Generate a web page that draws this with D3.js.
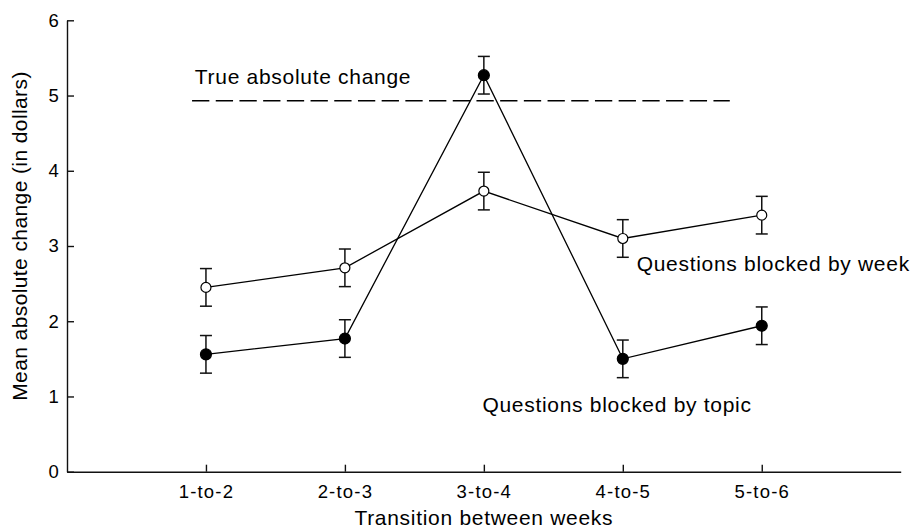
<!DOCTYPE html>
<html>
<head>
<meta charset="utf-8">
<script src="https://cdn.jsdelivr.net/npm/d3@7"></script>
<style>
  body { margin: 0; background: #fff; }
  text { font-family: "Liberation Sans", Arial, sans-serif; fill: #000; }
</style>
</head>
<body>
<div id="chart-area"></div>
<script>
// transitions on the x axis (placed at positions 1..5 of a 0..6 axis)
const transitions = ["1-to-2", "2-to-3", "3-to-4", "4-to-5", "5-to-6"]
const yTicks = [0, 1, 2, 3, 4, 5, 6]

// questions blocked by week (open circles)
const weekMeans = [2.45, 2.71, 3.73, 3.10, 3.41]
const weekErr = [0.25, 0.25, 0.25, 0.25, 0.25]

// questions blocked by topic (filled circles)
const topicMeans = [1.56, 1.77, 5.27, 1.50, 1.94]
const topicErr = [0.25, 0.25, 0.25, 0.25, 0.25]

// true absolute change (dashed reference line)
const trueChange = 4.93
const trueFrom = 0.9
const trueTo = 4.77

const width = 913, height = 529

const svg = d3.select("#chart-area").append("svg")
    .attr("width", width)
    .attr("height", height)

const x = d3.scaleLinear().domain([0, 6]).range([67, 900.7])
const y = d3.scaleLinear().domain([0, 6]).range([471.7, 20.3])

// axes, ticks pointing inward
const xAxis = svg.append("g")
    .attr("transform", `translate(0,${y(0)})`)
    .call(d3.axisBottom(x)
        .tickValues(transitions.map((d, i) => i + 1))
        .tickFormat((d, i) => transitions[i])
        .tickSize(-7)
        .tickPadding(13)
        .tickSizeOuter(0))
const yAxis = svg.append("g")
    .attr("transform", `translate(${x(0)},0)`)
    .call(d3.axisLeft(y)
        .tickValues(yTicks)
        .tickFormat(d3.format("d"))
        .tickSize(-7)
        .tickPadding(7)
        .tickSizeOuter(0))

svg.selectAll(".domain, .tick line")
    .attr("stroke", "#111")
    .attr("stroke-width", 1.4)
svg.selectAll(".tick text")
    .style("font-size", "18.5px")
    .style("letter-spacing", "1.2px")
xAxis.selectAll(".tick text").attr("dy", "0.71em")

// axis titles
svg.append("text")
    .attr("x", (x(0) + x(6)) / 2)
    .attr("y", 525)
    .attr("text-anchor", "middle")
    .style("font-size", "21px")
    .style("letter-spacing", "0.7px")
    .text("Transition between weeks")
svg.append("text")
    .attr("transform", "translate(27,236) rotate(-90)")
    .attr("text-anchor", "middle")
    .style("font-size", "21px")
    .style("letter-spacing", "0.4px")
    .text("Mean absolute change (in dollars)")

// dashed true change line
svg.append("line")
    .attr("x1", x(trueFrom))
    .attr("x2", x(trueTo))
    .attr("y1", y(trueChange))
    .attr("y2", y(trueChange))
    .attr("stroke", "#000")
    .attr("stroke-width", 1.4)
    .attr("stroke-dasharray", "17.3 6.4")

// draw one series: line, error bars, points
function drawSeries(means, errs, filled) {
    const pts = means.map((m, i) => ({ x: i + 1, m: m, e: errs[i] }))
    const line = d3.line().x(d => x(d.x)).y(d => y(d.m))

    svg.append("path")
        .datum(pts)
        .attr("d", line)
        .attr("fill", "none")
        .attr("stroke", "#000")
        .attr("stroke-width", 1.3)

    const bars = svg.append("g").selectAll("g")
        .data(pts)
        .enter().append("g")
        .attr("stroke", "#111")
        .attr("stroke-width", 1.5)
    bars.append("line")
        .attr("x1", d => x(d.x)).attr("x2", d => x(d.x))
        .attr("y1", d => y(d.m - d.e)).attr("y2", d => y(d.m + d.e))
    bars.append("line")
        .attr("x1", d => x(d.x) - 6).attr("x2", d => x(d.x) + 6)
        .attr("y1", d => y(d.m + d.e)).attr("y2", d => y(d.m + d.e))
    bars.append("line")
        .attr("x1", d => x(d.x) - 6).attr("x2", d => x(d.x) + 6)
        .attr("y1", d => y(d.m - d.e)).attr("y2", d => y(d.m - d.e))

    svg.append("g").selectAll("circle")
        .data(pts)
        .enter().append("circle")
        .attr("cx", d => x(d.x))
        .attr("cy", d => y(d.m))
        .attr("r", filled ? 5.5 : 5)
        .attr("fill", filled ? "#000" : "#fff")
        .attr("stroke", "#000")
        .attr("stroke-width", 1.2)
}

drawSeries(weekMeans, weekErr, false)
drawSeries(topicMeans, topicErr, true)

// series labels
const labels = [
    { text: "True absolute change", x: 0.92, y: 5.15 },
    { text: "Questions blocked by week", x: 4.1, y: 2.67 },
    { text: "Questions blocked by topic", x: 2.99, y: 0.79 }
]
svg.selectAll(".series-label")
    .data(labels)
    .enter().append("text")
    .attr("class", "series-label")
    .attr("x", d => x(d.x))
    .attr("y", d => y(d.y))
    .style("font-size", "21px")
    .style("letter-spacing", "0.7px")
    .text(d => d.text)
</script>
</body>
</html>
